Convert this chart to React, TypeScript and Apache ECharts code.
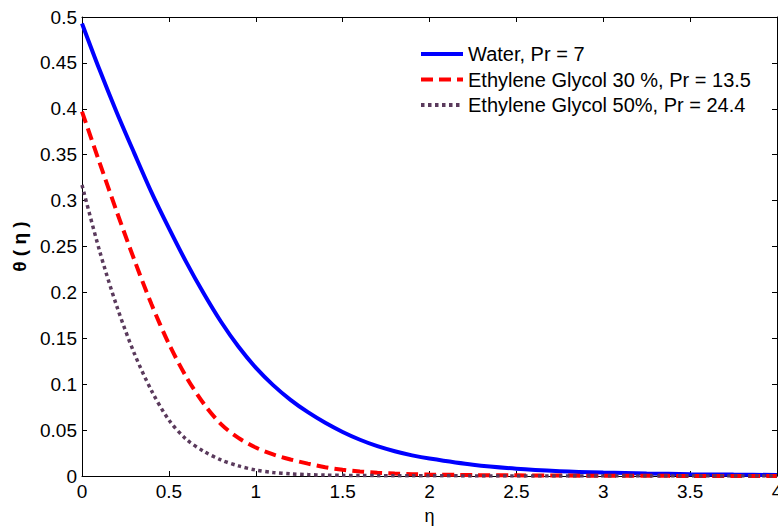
import React, { useEffect, useRef } from "react";
import * as echarts from "echarts";

const eta = [0, 0.1, 0.2, 0.3, 0.4, 0.5, 0.6, 0.7, 0.8, 0.9, 1.0, 1.1, 1.2, 1.3, 1.4, 1.5, 1.6, 1.7, 1.8, 1.9, 2.0, 2.25, 2.5, 2.75, 3.0, 3.25, 3.5, 3.75, 4.0];
const water = [0.493, 0.443, 0.396, 0.352, 0.309, 0.270, 0.233, 0.199, 0.168, 0.141, 0.118, 0.099, 0.083, 0.0695, 0.058, 0.048, 0.0395, 0.0325, 0.027, 0.0225, 0.019, 0.0122, 0.0079, 0.0053, 0.0037, 0.0027, 0.002, 0.0015, 0.0011];
const eg30 = [0.397, 0.342, 0.288, 0.236, 0.187, 0.144, 0.108, 0.079, 0.0565, 0.0415, 0.031, 0.0235, 0.018, 0.0135, 0.0095, 0.0068, 0.0049, 0.0036, 0.0027, 0.002, 0.0016, 0.001, 0.0007, 0.0005, 0.0003, 0.0002, 0.0001, 0.0001, 0];
const eg50 = [0.317, 0.246, 0.185, 0.134, 0.093, 0.061, 0.040, 0.027, 0.0175, 0.011, 0.0065, 0.0038, 0.0023, 0.0015, 0.001, 0.0007, 0.0005, 0.0004, 0.0003, 0.0002, 0.0002, 0.0001, 0, 0, 0, 0, 0, 0, 0];
const seriesNames = ["Water, Pr = 7", "Ethylene Glycol 30 %, Pr = 13.5", "Ethylene Glycol 50%, Pr = 24.4"];

const FONT = "'Liberation Sans', Arial, Helvetica, sans-serif";

export default function App() {
  const ref = useRef<HTMLDivElement>(null);
  useEffect(() => {
    if (!ref.current) return;
    const chart = echarts.init(ref.current, undefined, { renderer: "svg" });
    const pairs = (ys: number[]) => eta.map((x, i) => [x, ys[i]]);
    const tickLabel = { color: "#000", fontSize: 19, fontFamily: FONT };
    const axisLine = { show: true, onZero: false, lineStyle: { color: "#000", width: 1 } };
    const axisTick = { show: true, inside: true, length: 5, lineStyle: { color: "#000" } };
    chart.setOption({
      animation: false,
      backgroundColor: "#fff",
      grid: { left: 82, right: 1, top: 17, bottom: 50, containLabel: false, outerBoundsMode: "none" },
      legend: {
        orient: "vertical",
        left: 419,
        top: 43,
        padding: 0,
        itemWidth: 42,
        itemHeight: 14,
        itemGap: 3.5,
        itemStyle: { opacity: 0 },
        lineStyle: { width: 4 },
        textStyle: { color: "#000", fontSize: 20, fontFamily: FONT, lineHeight: 22 },
        data: seriesNames,
      },
      xAxis: [
        {
          type: "value", min: 0, max: 4, interval: 0.5, position: "bottom",
          name: "η", nameLocation: "middle", nameGap: 31,
          nameTextStyle: { color: "#000", fontSize: 18, fontFamily: FONT },
          axisLine, axisTick, splitLine: { show: false },
          axisLabel: { ...tickLabel, margin: 6 },
        },
        {
          type: "value", min: 0, max: 4, interval: 0.5, position: "top",
          axisLine, axisTick, splitLine: { show: false }, axisLabel: { show: false },
        },
      ],
      yAxis: [
        {
          type: "value", min: 0, max: 0.5, interval: 0.05, position: "left",
          name: "θ ( η )", nameLocation: "middle", nameGap: 49, nameRotate: 90,
          nameTextStyle: { color: "#000", fontSize: 19, fontWeight: "bold", fontFamily: FONT },
          axisLine, axisTick, splitLine: { show: false },
          axisLabel: { ...tickLabel, margin: 5 },
        },
        {
          type: "value", min: 0, max: 0.5, interval: 0.05, position: "right",
          axisLine, axisTick, splitLine: { show: false }, axisLabel: { show: false },
        },
      ],
      series: [
        {
          name: seriesNames[0], type: "line", data: pairs(water), showSymbol: false, symbol: "none",
          smooth: 0.3, lineStyle: { color: "#0000ff", width: 4, type: "solid" }, itemStyle: { color: "#0000ff" },
        },
        {
          name: seriesNames[1], type: "line", data: pairs(eg30), showSymbol: false, symbol: "none",
          smooth: 0.3, lineStyle: { color: "#ff0000", width: 4, type: [12, 6] }, itemStyle: { color: "#ff0000" },
        },
        {
          name: seriesNames[2], type: "line", data: pairs(eg50), showSymbol: false, symbol: "none",
          smooth: 0.3, lineStyle: { color: "#5a3a5c", width: 3.5, type: [3.5, 3.5] }, itemStyle: { color: "#5a3a5c" },
        },
      ],
    });
    return () => chart.dispose();
  }, []);
  return <div ref={ref} style={{ width: 778, height: 526, position: "absolute", left: 0, top: 0 }} />;
}
